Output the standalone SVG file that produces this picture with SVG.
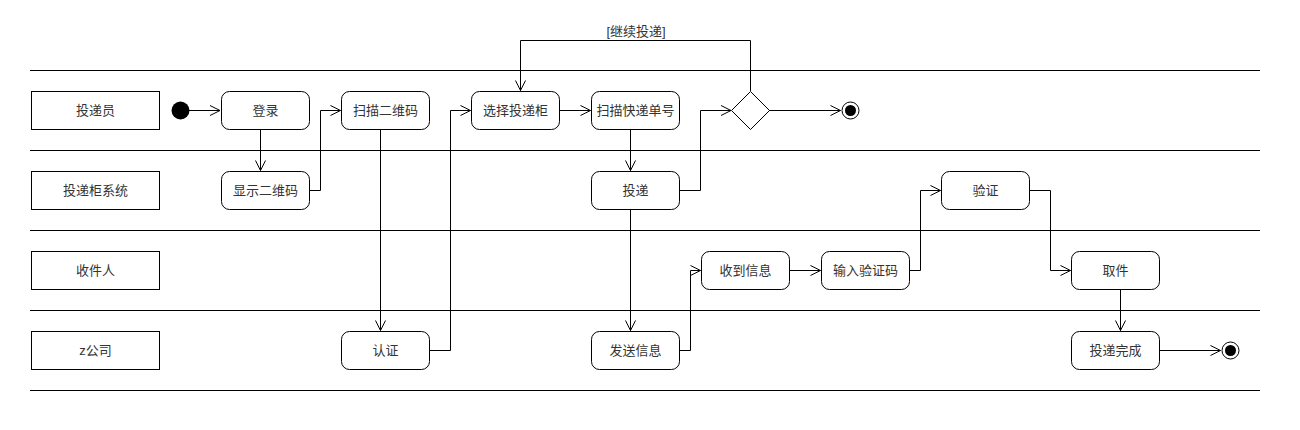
<svg xmlns="http://www.w3.org/2000/svg" width="1300" height="430" viewBox="0 0 1300 430">
<style>
.lane{stroke:#000;stroke-width:1;fill:none}
.lbl{fill:#fff;stroke:#000;stroke-width:1}
.act{fill:#fff;stroke:#000;stroke-width:1}
.t{font-family:"Liberation Sans","Noto Sans CJK SC",sans-serif;font-size:13px;fill:#333;text-anchor:middle;dominant-baseline:central}
.c{fill:none;stroke:#000;stroke-width:1;marker-end:url(#arr)}
</style>
<defs>
<marker id="arr" markerUnits="userSpaceOnUse" markerWidth="12" markerHeight="12" viewBox="0 0 12 12" refX="11" refY="6" orient="auto">
<path d="M1,1 L11,6 L1,11" fill="none" stroke="#000" stroke-width="1"/>
</marker>
</defs>
<rect width="1300" height="430" fill="#fff"/>
<g id="lanes">
<line class="lane" x1="30" y1="70.5" x2="1260" y2="70.5"/>
<line class="lane" x1="30" y1="150.5" x2="1260" y2="150.5"/>
<line class="lane" x1="30" y1="230.5" x2="1260" y2="230.5"/>
<line class="lane" x1="30" y1="310.5" x2="1260" y2="310.5"/>
<line class="lane" x1="30" y1="390.5" x2="1260" y2="390.5"/>
</g>
<g id="lane-labels">
<g id="lane1"><rect class="lbl" x="31.5" y="91.5" width="128" height="38"/><text class="t" x="95.5" y="110.5">投递员</text></g>
<g id="lane2"><rect class="lbl" x="31.5" y="171.5" width="128" height="38"/><text class="t" x="95.5" y="190.5">投递柜系统</text></g>
<g id="lane3"><rect class="lbl" x="31.5" y="251.5" width="128" height="38"/><text class="t" x="95.5" y="270.5">收件人</text></g>
<g id="lane4"><rect class="lbl" x="31.5" y="331.5" width="128" height="38"/><text class="t" x="95.5" y="350.5">z公司</text></g>
</g>
<g id="connectors">
<path class="c" d="M189,110.5 H220"/>
<path class="c" d="M260.5,129.5 V170.5"/>
<path class="c" d="M309.5,190.5 H320.5 V110.5 H340.5"/>
<path class="c" d="M380.5,129.5 V330.5"/>
<path class="c" d="M429.5,350.5 H450.5 V110.5 H470.5"/>
<path class="c" d="M559.5,110.5 H590.5"/>
<path class="c" d="M630.5,129.5 V170.5"/>
<path class="c" d="M679.5,190.5 H700.5 V110.5 H731"/>
<path class="c" d="M769,110.5 H840.5"/>
<path class="c" d="M750.5,91 V40.5 H520.5 V90.5"/>
<path class="c" d="M630.5,209.5 V330.5"/>
<path class="c" d="M679.5,350.5 H690.5 V270.5 H700.5"/>
<path class="c" d="M789.5,270.5 H820.5"/>
<path class="c" d="M909.5,270.5 H920.5 V190.5 H940.5"/>
<path class="c" d="M1029.5,190.5 H1050.5 V270.5 H1070.5"/>
<path class="c" d="M1120.5,289.5 V330.5"/>
<path class="c" d="M1159.5,350.5 H1220.5"/>
<text class="t" x="636" y="31">[继续投递]</text>
</g>
<g id="start"><circle cx="180.5" cy="110.5" r="9" fill="#000"/></g>
<g id="n-login"><rect class="act" x="221.5" y="91.5" width="88" height="38" rx="8"/><text class="t" x="265.5" y="110.5">登录</text></g>
<g id="n-scanqr"><rect class="act" x="341.5" y="91.5" width="88" height="38" rx="8"/><text class="t" x="385.5" y="110.5">扫描二维码</text></g>
<g id="n-select"><rect class="act" x="471.5" y="91.5" width="88" height="38" rx="8"/><text class="t" x="515.5" y="110.5">选择投递柜</text></g>
<g id="n-scanno"><rect class="act" x="591.5" y="91.5" width="88" height="38" rx="8"/><text class="t" x="635.5" y="110.5">扫描快递单号</text></g>
<g id="decision"><polygon class="act" points="750.5,91.5 769.5,110.5 750.5,129.5 731.5,110.5"/></g>
<g id="end1"><circle cx="850.5" cy="110.5" r="8.5" fill="#fff" stroke="#000"/><circle cx="850.5" cy="110.5" r="5.5" fill="#000"/></g>
<g id="n-showqr"><rect class="act" x="221.5" y="171.5" width="88" height="38" rx="8"/><text class="t" x="265.5" y="190.5">显示二维码</text></g>
<g id="n-deliver"><rect class="act" x="591.5" y="171.5" width="88" height="38" rx="8"/><text class="t" x="635.5" y="190.5">投递</text></g>
<g id="n-verify"><rect class="act" x="941.5" y="171.5" width="88" height="38" rx="8"/><text class="t" x="985.5" y="190.5">验证</text></g>
<g id="n-recv"><rect class="act" x="701.5" y="251.5" width="88" height="38" rx="8"/><text class="t" x="745.5" y="270.5">收到信息</text></g>
<g id="n-input"><rect class="act" x="821.5" y="251.5" width="88" height="38" rx="8"/><text class="t" x="865.5" y="270.5">输入验证码</text></g>
<g id="n-pick"><rect class="act" x="1071.5" y="251.5" width="88" height="38" rx="8"/><text class="t" x="1115.5" y="270.5">取件</text></g>
<g id="n-auth"><rect class="act" x="341.5" y="331.5" width="88" height="38" rx="8"/><text class="t" x="385.5" y="350.5">认证</text></g>
<g id="n-send"><rect class="act" x="591.5" y="331.5" width="88" height="38" rx="8"/><text class="t" x="635.5" y="350.5">发送信息</text></g>
<g id="n-done"><rect class="act" x="1071.5" y="331.5" width="88" height="38" rx="8"/><text class="t" x="1115.5" y="350.5">投递完成</text></g>
<g id="end2"><circle cx="1230.5" cy="350.5" r="8.5" fill="#fff" stroke="#000"/><circle cx="1230.5" cy="350.5" r="5.5" fill="#000"/></g>
</svg>
